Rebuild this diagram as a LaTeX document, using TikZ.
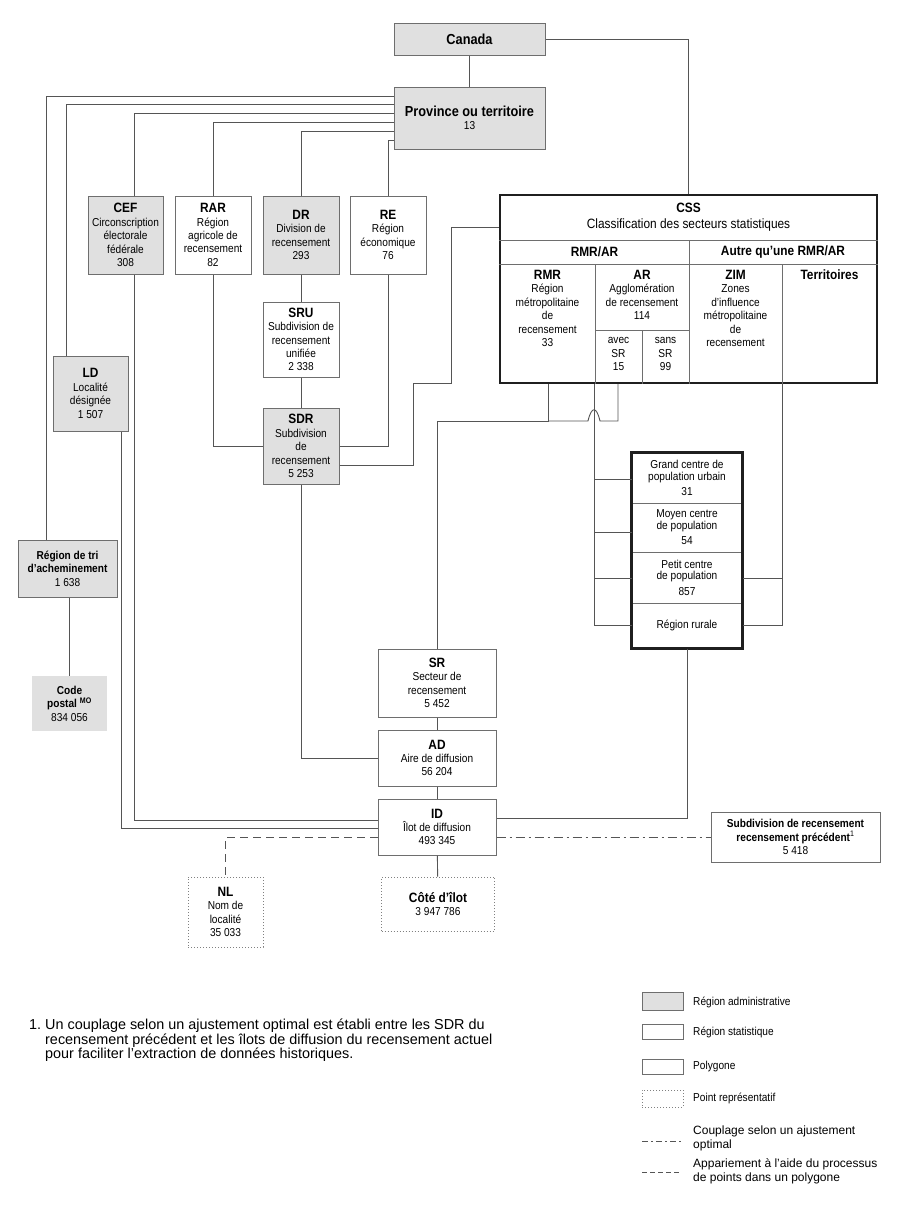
\documentclass[tikz,border=0pt]{standalone}
\usepackage{fontspec}
\setmainfont{Liberation Sans}[FakeStretch=0.88]
\newfontfamily\notefont{Liberation Sans}
\definecolor{admingray}{RGB}{224,224,224}
\definecolor{edgegray}{RGB}{110,110,110}
\definecolor{wiregray}{RGB}{85,85,85}
\newcommand{\bodysize}{\fontsize{11.5}{13.4}\selectfont}
\newcommand{\headsize}{\fontsize{13.5}{14}\selectfont}
\newcommand{\bigsize}{\fontsize{14.5}{15}\selectfont}
\newcommand{\popsize}{\fontsize{11.5}{11.5}\selectfont}
\newcommand{\notesize}{\notefont\fontsize{14.4}{14.4}\selectfont}
\newcommand{\keysize}{\notefont\fontsize{12}{14.5}\selectfont}

\begin{document}
\begin{tikzpicture}[x=1pt, y=-1pt,
        box/.style={rectangle, draw=edgegray, line width=1pt, fill=white, align=center, inner sep=0pt, font=\bodysize},
        admin/.style={box, fill=admingray},
        pointbox/.style={box, draw=gray, dotted, line width=0.9pt},
        popcell/.style={box, minimum width=110, font=\popsize},
        cell/.style={rectangle, align=center, inner sep=0pt, font=\bodysize},
        wire/.style={draw=wiregray, line width=0.9pt},
        heavy/.style={draw=black!88, line width=2.4pt},
        matchline/.style={wire, dash pattern=on 9pt off 4pt on 2pt off 4pt},
        pipline/.style={wire, dash pattern=on 8pt off 5pt}
    ]
    \fill[white] (0,0) rectangle (900,1210);
    \useasboundingbox (0,0) rectangle (900,1210);

    % top of the hierarchy
    \node[admin, minimum width=151, minimum height=32] (canada) at (469.5,39) {\bigsize\bfseries Canada};
    \node[admin, minimum width=151, minimum height=62] (prov) at (469.5,118) {{\bigsize\bfseries Province ou territoire}\\13};

    % second row
    \node[admin, minimum width=75, minimum height=78] (cef) at (125.5,235) {{\headsize\bfseries CEF}\\Circonscription\\électorale\\fédérale\\308};
    \node[box, minimum width=76, minimum height=78] (rar) at (213,235) {{\headsize\bfseries RAR}\\Région\\agricole de\\recensement\\82};
    \node[admin, minimum width=76, minimum height=78] (dr) at (301,235) {{\headsize\bfseries DR}\\Division de\\recensement\\293};
    \node[box, minimum width=76, minimum height=78] (re) at (388,235) {{\headsize\bfseries RE}\\Région\\économique\\76};
    \node[box, minimum width=76, minimum height=75] (sru) at (301,339.5) {{\headsize\bfseries SRU}\\Subdivision de\\recensement\\unifiée\\2 338};
    \node[admin, minimum width=76, minimum height=76] (sdr) at (301,446) {{\headsize\bfseries SDR}\\Subdivision\\de\\recensement\\5 253};
    \node[admin, minimum width=75, minimum height=75] (ld) at (90.5,393.5) {{\headsize\bfseries LD}\\Localité\\désignée\\1 507};
    \node[admin, minimum width=99, minimum height=57] (rta) at (67.5,568.5) {\textbf{Région de tri}\\\textbf{d’acheminement}\\1 638};
    \node[cell, fill=admingray, minimum width=75, minimum height=55] (postal) at (69.5,703.5) {\textbf{Code}\\\textbf{postal \textsuperscript{MO}}\\834 056};

    % CSS table
    \node[box, heavy, minimum width=377, minimum height=188] (css) at (688.5,289) {};
    \draw[draw=edgegray, line width=0.9pt] (css.west |- 0,240) -- (css.east |- 0,240);
    \draw[draw=edgegray, line width=0.9pt] (css.west |- 0,264) -- (css.east |- 0,264);
    \draw[draw=edgegray, line width=0.9pt] (689,240) -- (689,0 |- css.south);
    \draw[draw=edgegray, line width=0.9pt] (595,264) -- (595,0 |- css.south);
    \draw[draw=edgegray, line width=0.9pt] (782,264) -- (782,0 |- css.south);
    \draw[draw=edgegray, line width=0.9pt] (595,330) -- (689,330);
    \draw[draw=edgegray, line width=0.9pt] (642,330) -- (642,0 |- css.south);
    \node[cell] (csshead) at (688.5,217) {{\headsize\bfseries CSS}\\[2pt]{\fontsize{13.5}{15}\selectfont Classification des secteurs statistiques}};
    \node[cell, font=\headsize\bfseries] (rmrar) at (594.5,252) {RMR/AR};
    \node[cell, font=\headsize\bfseries] (autre) at (783,252) {Autre qu’une RMR/AR};
    \node[cell, anchor=north] (rmr) at (547.5,270) {{\headsize\bfseries RMR}\\Région\\métropolitaine\\de\\recensement\\33};
    \node[cell, anchor=north] (ar) at (642,270) {{\headsize\bfseries AR}\\Agglomération\\de recensement\\114};
    \node[cell] (avec) at (618.5,354) {avec\\SR\\15};
    \node[cell] (sans) at (665.5,354) {sans\\SR\\99};
    \node[cell, anchor=north] (zim) at (735.5,270) {{\headsize\bfseries ZIM}\\Zones\\d’influence\\métropolitaine\\de\\recensement};
    \node[cell, anchor=north] (terr) at (829.5,270) {\headsize\bfseries Territoires};

    % population centres
    \node[popcell, minimum height=50] (grand) at (687,478) {Grand centre de\\population urbain\\[4pt]31};
    \node[popcell, minimum height=49] (moyen) at (687,527.5) {Moyen centre\\de population\\[4pt]54};
    \node[popcell, minimum height=51] (petit) at (687,577.5) {Petit centre\\de population\\[4pt]857};
    \node[popcell, minimum height=45] (rurale) at (687,625.5) {Région rurale};
    \draw[heavy] (grand.north west) rectangle (rurale.south east);

    % small units
    \node[box, minimum width=118, minimum height=68] (sr) at (437,683) {{\headsize\bfseries SR}\\Secteur de\\recensement\\5 452};
    \node[box, minimum width=118, minimum height=56] (ad) at (437,758) {{\headsize\bfseries AD}\\Aire de diffusion\\56 204};
    \node[box, minimum width=118, minimum height=56] (id) at (437,827) {{\headsize\bfseries ID}\\Îlot de diffusion\\493 345};
    \node[pointbox, minimum width=113, minimum height=54] (cote) at (438,904) {{\headsize\bfseries Côté d’îlot}\\3 947 786};
    \node[pointbox, minimum width=75, minimum height=70] (nl) at (225.5,912) {{\headsize\bfseries NL}\\Nom de\\localité\\35 033};
    \node[box, minimum width=169, minimum height=50] (prev) at (795.5,837) {\textbf{Subdivision de recensement}\\\textbf{recensement précédent}\textsuperscript{1}\\5 418};

    % connectors
    \draw[wire] (canada) -- (prov);
    \draw[wire] (canada.east) -| (css.north);
    \draw[wire] (prov.west |- 0,96) -| (46,0 |- rta.north);
    \draw[wire] (prov.west |- 0,104) -| (66,0 |- ld.north);
    \draw[wire] (prov.west |- 0,113) -| (134,0 |- cef.north);
    \draw[wire] (prov.west |- 0,122) -| (rar.north);
    \draw[wire] (prov.west |- 0,131) -| (dr.north);
    \draw[wire] (prov.west |- 0,140) -| (re.north);
    \draw[wire] (dr) -- (sru);
    \draw[wire] (sru) -- (sdr);
    \draw[wire] (rar.south) |- (sdr.west);
    \draw[wire] (re.south) |- (sdr.east);
    \draw[wire] (sdr.east |- 0,465) -| (413,383) -| (451,227) -- (css.west |- 0,227);
    \draw[wire] (sdr.south) |- (ad.west);
    \draw[wire] (134,0 |- cef.south) |- (id.west |- 0,820);
    \draw[wire] (121,0 |- ld.south) |- (id.west |- 0,828);
    \draw[wire] (rta.south -| postal.north) -- (postal.north);
    \draw[wire] (sr) -- (ad);
    \draw[wire] (ad) -- (id);
    \draw[wire] (id) -- (cote);
    \draw[wire] (548,0 |- css.south) |- (sr.north |- 0,421) -- (sr.north);
    \draw[wire] (618,0 |- css.south) -- (618,421) -- (600,421) .. controls (596.5,406) and (591.5,406) .. (588,421) -- (548,421);
    \draw[wire] (594,0 |- css.south) |- (rurale.west);
    \foreach \cellname/\yy in {grand/479, moyen/532, petit/578}
        \draw[wire] (594,\yy) -- (\cellname.west |- 0,\yy);
    \draw[wire] (782,0 |- css.south) |- (rurale.east);
    \draw[wire] (782,578) -- (petit.east |- 0,578);
    \draw[wire] (rurale.south) |- (id.east |- 0,818);
    \draw[pipline] (id.west |- 0,837) -| (nl.north);
    \draw[matchline] (id.east |- 0,837) -- (prev.west |- 0,837);

    % footnote
    \node[anchor=north west, inner sep=0pt, font=\notesize] (notenum) at (29,1019) {1.};
    \node[anchor=north west, inner sep=0pt, font=\notesize, align=left] (note) at (45,1019) {Un couplage selon un ajustement optimal est établi entre les SDR du\\recensement précédent et les îlots de diffusion du recensement actuel\\pour faciliter l’extraction de données historiques.};

    % legend
    \node[admin, minimum width=41, minimum height=18] (keyadmin) at (662.5,1001) {};
    \node[box, minimum width=41, minimum height=15] (keystat) at (662.5,1032) {};
    \node[box, minimum width=41, minimum height=15] (keypoly) at (662.5,1066.5) {};
    \node[pointbox, minimum width=41, minimum height=17] (keypoint) at (662.5,1098.5) {};
    \coordinate (keymatchA) at (642,1141);
    \coordinate (keymatchB) at (681,1141);
    \coordinate (keypipA) at (642,1172);
    \coordinate (keypipB) at (681,1172);
    \draw[wire, dash pattern=on 6pt off 3pt on 2pt off 3pt] (keymatchA) -- (keymatchB);
    \draw[wire, dash pattern=on 5pt off 3pt] (keypipA) -- (keypipB);
    \node[cell, anchor=west] (txtadmin) at (693,1002) {Région administrative};
    \node[cell, anchor=west] (txtstat) at (693,1032) {Région statistique};
    \node[cell, anchor=west] (txtpoly) at (693,1067) {Polygone};
    \node[cell, anchor=west] (txtpoint) at (693,1098) {Point représentatif};
    \node[cell, anchor=west, align=left, font=\keysize] (txtmatch) at (693,1138.5) {Couplage selon un ajustement\\optimal};
    \node[cell, anchor=west, align=left, font=\keysize] (txtpip) at (693,1171.5) {Appariement à l’aide du processus\\de points dans un polygone};
\end{tikzpicture}
\end{document}
